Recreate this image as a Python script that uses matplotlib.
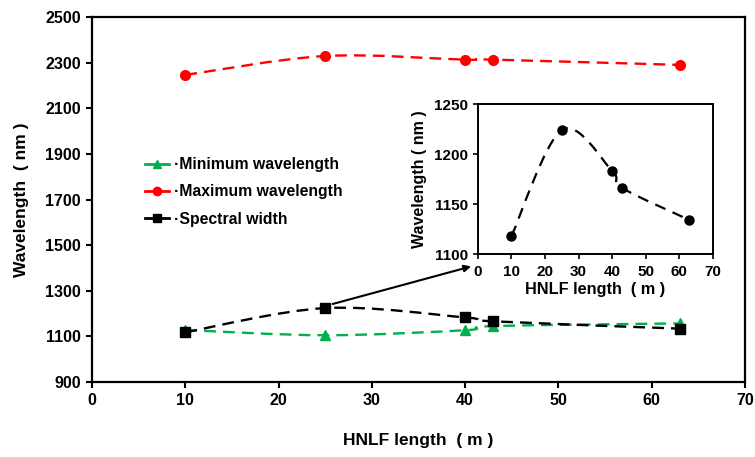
import numpy as np
import matplotlib
matplotlib.use("Agg")
import matplotlib.pyplot as plt
from matplotlib.path import Path
from matplotlib.patches import PathPatch
from matplotlib.lines import Line2D

plt.rcParams['font.family'] = ['Liberation Sans', 'DejaVu Sans']
plt.rcParams['font.weight'] = 'bold'

hnlf_length = [10, 25, 40, 43, 63]
min_wavelength = [1128, 1105, 1127, 1145, 1157]
max_wavelength = [2246, 2329, 2313, 2313, 2290]
spectral_width = [1118, 1224, 1183, 1166, 1134]

labels = ["\u00b7Minimum wavelength", "\u00b7Maximum wavelength", "\u00b7Spectral width"]
colors = ["#00B050", "#FF0000", "#000000"]
markers = ["^", "o", "s"]


def smooth_path(xs, ys):
    xs = np.asarray(xs, float)
    ys = np.asarray(ys, float)
    pts = np.column_stack([xs, ys])
    n = len(pts)
    verts = [pts[0]]
    codes = [Path.MOVETO]
    for i in range(n - 1):
        p0 = pts[i - 1] if i > 0 else pts[i]
        p1 = pts[i]
        p2 = pts[i + 1]
        p3 = pts[i + 2] if i + 2 < n else pts[i + 1]
        c1 = p1 + (p2 - p0) / 6.0
        c2 = p2 - (p3 - p1) / 6.0
        verts += [c1, c2, p2]
        codes += [Path.CURVE4] * 3
    return Path(verts, codes)


def draw_series(ax, xs, ys, color, marker, ms, lw=1.7, dashes=(5, 3)):
    patch = PathPatch(smooth_path(xs, ys), facecolor='none', edgecolor=color,
                      lw=lw, linestyle=(0, dashes), zorder=2)
    ax.add_patch(patch)
    ax.plot(xs, ys, linestyle='none', marker=marker, color=color, ms=ms, zorder=3)


fig = plt.figure(figsize=(7.55, 4.57), dpi=100)
ax = fig.add_axes([0.1219, 0.1641, 0.8649, 0.7987])

draw_series(ax, hnlf_length, min_wavelength, colors[0], markers[0], 7)
draw_series(ax, hnlf_length, max_wavelength, colors[1], markers[1], 7)
draw_series(ax, hnlf_length, spectral_width, colors[2], markers[2], 7)

ax.set_xlim(0, 70)
ax.set_ylim(900, 2500)
ax.set_xticks(np.arange(0, 71, 10))
ax.set_yticks(np.arange(900, 2501, 200))
ax.tick_params(direction='out', length=4, width=1.5, labelsize=11.5, pad=4)
for lab in ax.get_xticklabels() + ax.get_yticklabels():
    lab.set_fontweight('bold')
for s in ax.spines.values():
    s.set_linewidth(1.6)
ax.set_xlabel("HNLF length  ( m )", fontsize=12.5, fontweight='bold', labelpad=18)
ax.set_ylabel("Wavelength  ( nm )", fontsize=12.5, fontweight='bold', labelpad=12)

handles = [Line2D([0], [0], color=c, marker=m, ms=6, lw=2) for c, m in zip(colors, markers)]
leg = ax.legend(handles, labels, loc='upper left', bbox_to_anchor=(0.06, 0.655),
                frameon=False, handlelength=1.5, handletextpad=0.3,
                labelspacing=0.78, prop={'weight': 'bold', 'size': 11.3})

# inset
axi = fig.add_axes([0.633, 0.4442, 0.3113, 0.3282])
draw_series(axi, hnlf_length, spectral_width, 'black', 'o', 6.5, lw=1.6, dashes=(5, 3.5))
axi.set_xlim(0, 70)
axi.set_ylim(1100, 1250)
axi.set_xticks(np.arange(0, 71, 10))
axi.set_yticks(np.arange(1100, 1251, 50))
axi.tick_params(direction='out', length=3.5, width=1.2, labelsize=11, pad=3.5)
axi.tick_params(axis='x', pad=4.5)
for lab in axi.get_xticklabels() + axi.get_yticklabels():
    lab.set_fontweight('bold')
for s in axi.spines.values():
    s.set_linewidth(1.4)
axi.set_xlabel("HNLF length  ( m )", fontsize=11.7, fontweight='bold', labelpad=2)
axi.set_ylabel("Wavelength ( nm )", fontsize=11.5, fontweight='bold', labelpad=5)

# arrow from main plot point to inset
ax.annotate("", xy=(0.624, 0.417), xycoords='figure fraction',
            xytext=(25.8, 1242), textcoords='data',
            arrowprops=dict(arrowstyle='-|>', color='black', lw=1.5,
                            mutation_scale=10, shrinkA=0, shrinkB=0))

fig.savefig("out.png", dpi=100)
